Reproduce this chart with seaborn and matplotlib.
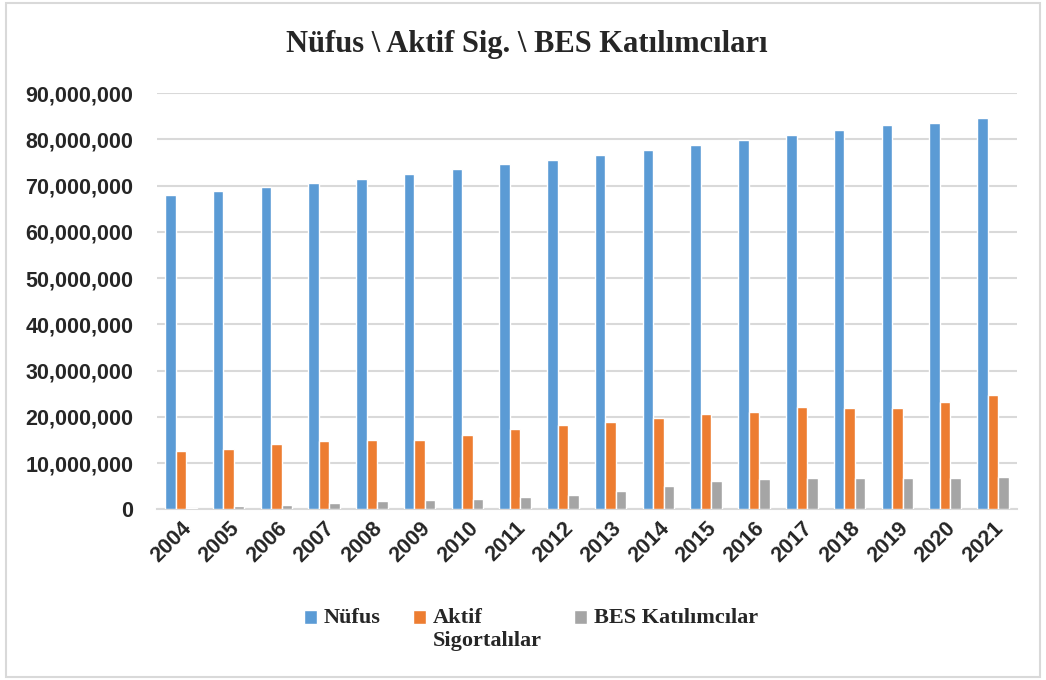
import matplotlib
matplotlib.use("Agg")
import matplotlib.pyplot as plt
import seaborn as sns
import pandas as pd
from matplotlib.ticker import FuncFormatter
from matplotlib.patches import Rectangle
from matplotlib.legend_handler import HandlerPatch

# Values (millions)
years = [str(y) for y in range(2004, 2022)]
nufus = [68.0, 68.9, 69.7, 70.6, 71.4, 72.5, 73.6, 74.7, 75.6,
         76.6, 77.7, 78.8, 79.8, 80.9, 82.0, 83.1, 83.6, 84.6]
aktif = [12.55, 13.05, 14.07, 14.72, 15.0, 15.0, 16.08, 17.3, 18.25,
         18.83, 19.85, 20.7, 21.1, 22.2, 22.0, 21.9, 23.3, 24.7]
bes = [0.28, 0.65, 1.0, 1.37, 1.73, 1.95, 2.24, 2.67, 3.1,
       4.05, 5.05, 6.06, 6.56, 6.86, 6.86, 6.86, 6.86, 7.08]
series = ["Nüfus", "Aktif Sigortalılar", "BES Katılımcılar"]
legend_labels = ["Nüfus\n", "Aktif\nSigortalılar", "BES Katılımcılar\n"]
colors = ["#5B9BD5", "#ED7D31", "#A5A5A5"]

df = pd.DataFrame({
    "year": years * 3,
    "value": [v * 1e6 for v in nufus + aktif + bes],
    "series": [series[0]] * 18 + [series[1]] * 18 + [series[2]] * 18,
})

sns.set_style("white")
fig = plt.figure(figsize=(10.46, 6.8), dpi=100)
ax = fig.add_axes([0.150, 0.251, 0.822, 0.612])

sns.barplot(data=df, x="year", y="value", hue="series", palette=colors,
            saturation=1, width=0.66, edgecolor="white", linewidth=1.0,
            ax=ax, zorder=3)

ax.set_ylim(0, 90e6)
ax.set_yticks([i * 10e6 for i in range(10)])
ax.yaxis.set_major_formatter(FuncFormatter(lambda v, p: f"{int(v):,}"))
ax.grid(axis="y", color="#D9D9D9", linewidth=1.5, zorder=0)
ax.set_axisbelow(True)
for s in ["top", "right", "left"]:
    ax.spines[s].set_visible(False)
ax.spines["bottom"].set_color("#D9D9D9")
ax.spines["bottom"].set_linewidth(1.5)
ax.set_xlabel("")
ax.set_ylabel("")
ax.tick_params(axis="both", length=0)
ax.tick_params(axis="y", pad=17)
ax.tick_params(axis="x", pad=6)
for lbl in ax.get_yticklabels():
    lbl.set_fontfamily("Liberation Sans")
    lbl.set_fontweight("bold")
    lbl.set_fontsize(15.5)
for lbl in ax.get_xticklabels():
    lbl.set_fontfamily("Liberation Sans")
    lbl.set_fontweight("bold")
    lbl.set_fontsize(15.5)
    lbl.set_rotation(45)
    lbl.set_ha("right")
    lbl.set_rotation_mode("anchor")

fig.text(0.504, 0.935, "Nüfus \\ Aktif Sig. \\ BES Katılımcıları",
         ha="center", va="center", fontfamily="Liberation Serif",
         fontweight="bold", fontsize=22)


# legend squares sit next to the first line of each label
def top_square(legend, orig_handle, xdescent, ydescent, width, height, fontsize):
    return Rectangle((-xdescent, -ydescent + 0.55 * fontsize), width, height)


handles, _ = ax.get_legend_handles_labels()
ax.legend(handles, legend_labels, loc="upper center", bbox_to_anchor=(0.435, -0.19),
          ncol=3, frameon=False, handlelength=0.6, handleheight=0.6,
          handletextpad=0.3, columnspacing=1.45,
          handler_map={h: HandlerPatch(patch_func=top_square) for h in handles},
          prop={"family": "Liberation Serif", "weight": "bold", "size": 16})

fig.patches.append(Rectangle((0.006, 0.004), 0.988, 0.992, transform=fig.transFigure,
                             fill=False, edgecolor="#D9D9D9", linewidth=1.5))

fig.savefig("out.png", dpi=100)
